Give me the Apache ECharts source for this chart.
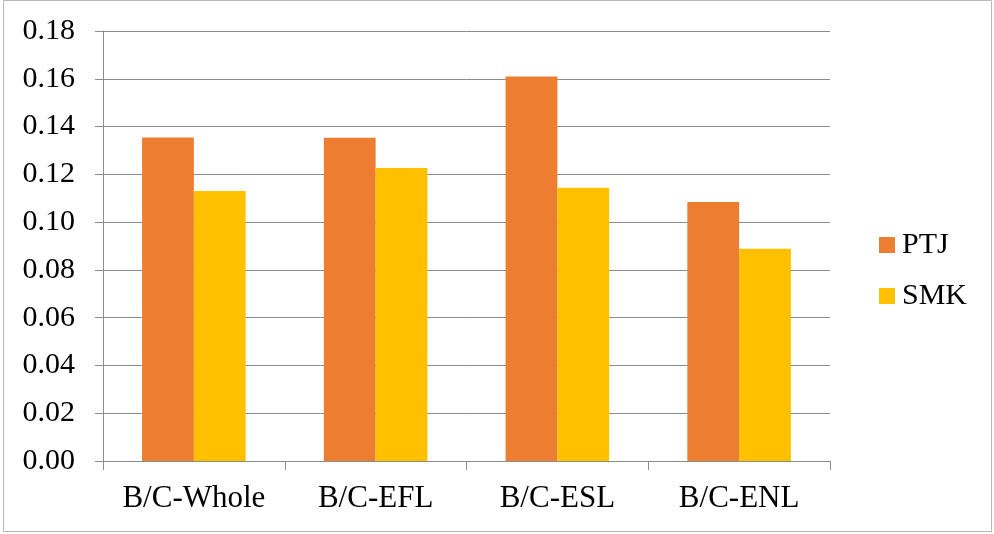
<!DOCTYPE html>
<html>
<head>
<meta charset="utf-8">
<script src="https://cdn.jsdelivr.net/npm/echarts@6/dist/echarts.min.js"></script>
<style>
  html, body { margin: 0; padding: 0; background: #ffffff; }
  #chart { width: 994px; height: 534px; }
</style>
</head>
<body>
<div id="chart"></div>
<script>
// Categories and series values
var categories = ['B/C-Whole', 'B/C-EFL', 'B/C-ESL', 'B/C-ENL'];
var ptjValues = [0.1354, 0.1353, 0.161, 0.1084];
var smkValues = [0.113, 0.1227, 0.1144, 0.0888];
var seriesNames = ['PTJ', 'SMK'];

var FONT = '"Liberation Serif", "Times New Roman", serif';
var chart = echarts.init(document.getElementById('chart'), null, { renderer: 'canvas' });

chart.setOption({
  backgroundColor: '#ffffff',
  animation: false,
  graphic: [{
    type: 'rect',
    shape: { x: 3.5, y: 0.5, width: 988, height: 531 },
    style: { fill: 'none', stroke: '#b8b8b8', lineWidth: 1 },
    silent: true
  }],
  grid: { left: 103, right: 164, top: 31, bottom: 73, containLabel: false },
  legend: {
    orient: 'vertical',
    left: 874,
    top: 225,
    itemWidth: 16,
    itemHeight: 16,
    itemGap: 21,
    icon: 'rect',
    data: seriesNames,
    textStyle: { fontFamily: FONT, fontSize: 30, color: '#000000', padding: [0, 0, 0, 2] }
  },
  xAxis: {
    type: 'category',
    data: categories,
    boundaryGap: true,
    axisLine: { lineStyle: { color: '#8c8c8c', width: 1 } },
    axisTick: { show: true, length: 9, interval: 0, alignWithLabel: false, lineStyle: { color: '#8c8c8c' } },
    axisLabel: { interval: 0, hideOverlap: false, fontFamily: FONT, fontSize: 31, color: '#000000', margin: 22 }
  },
  yAxis: {
    type: 'value',
    min: 0,
    max: 0.18,
    interval: 0.02,
    axisLine: { show: true, lineStyle: { color: '#8c8c8c', width: 1 } },
    axisTick: { show: true, length: 8, lineStyle: { color: '#8c8c8c' } },
    splitLine: { show: true, lineStyle: { color: '#8c8c8c', width: 1 } },
    axisLabel: {
      fontFamily: FONT, fontSize: 30, color: '#000000', margin: 28,
      formatter: function (v) { return v.toFixed(2); }
    }
  },
  series: [
    {
      name: seriesNames[0],
      type: 'bar',
      data: ptjValues,
      barGap: '0%',
      barCategoryGap: '43%',
      itemStyle: { color: '#ED7D31' }
    },
    {
      name: seriesNames[1],
      type: 'bar',
      data: smkValues,
      barGap: '0%',
      barCategoryGap: '43%',
      itemStyle: { color: '#FFC000' }
    }
  ]
});
</script>
</body>
</html>
